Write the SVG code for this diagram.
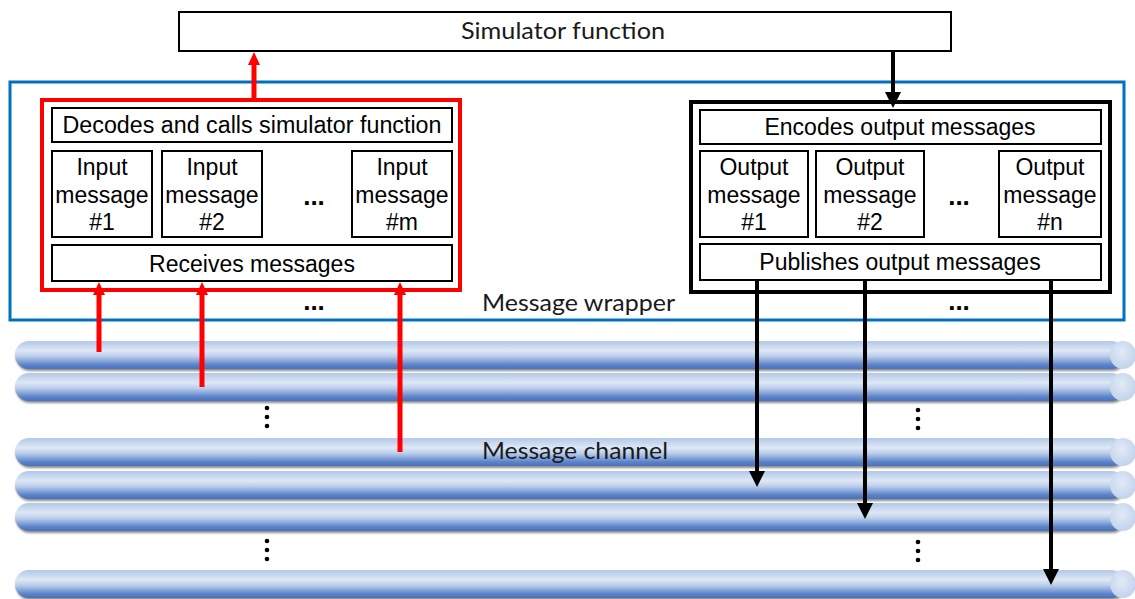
<svg xmlns="http://www.w3.org/2000/svg" width="1135" height="599" viewBox="0 0 1135 599">
  <style>
    .box { fill: #ffffff; stroke: #000000; stroke-width: 2; }
    .lbl { font-family: "Liberation Sans", Arial, sans-serif; font-size: 23px; fill: #000000; text-anchor: middle; }
    .cal { font-family: Lato, "Open Sans", sans-serif; font-size: 23px; fill: #1a1a1a; }
    .dots { font-family: "Liberation Sans", Arial, sans-serif; font-size: 26px; font-weight: bold; fill: #000000; text-anchor: middle; }
    .red { stroke: #ff0000; stroke-width: 5; fill: none; }
    .blk { stroke: #000000; stroke-width: 4; fill: none; }
    .vdot { fill: #000000; }
  </style>
  <defs>
    <linearGradient id="pipeBody" x1="0" y1="0" x2="0" y2="1">
      <stop offset="0" stop-color="#b1c8e8"/>
      <stop offset="0.35" stop-color="#dfe8f5"/>
      <stop offset="0.55" stop-color="#b9cdeb"/>
      <stop offset="0.85" stop-color="#5c83c9"/>
      <stop offset="1" stop-color="#4a72bd"/>
    </linearGradient>
    <radialGradient id="pipeEnd" cx="0.45" cy="0.4" r="0.6">
      <stop offset="0" stop-color="#e2eaf6"/>
      <stop offset="1" stop-color="#c3d3ec"/>
    </radialGradient>
    <filter id="soft" x="-5%" y="-50%" width="110%" height="200%">
      <feGaussianBlur stdDeviation="1.2"/>
    </filter>
    <marker id="redHead" viewBox="0 0 13 12" refX="0" refY="6" markerWidth="13" markerHeight="12" markerUnits="userSpaceOnUse" orient="auto">
      <path d="M0,0 L13,6 L0,12 z" fill="#ff0000"/>
    </marker>
    <marker id="blkHead" viewBox="0 0 16 16" refX="0" refY="8" markerWidth="16" markerHeight="16" markerUnits="userSpaceOnUse" orient="auto">
      <path d="M0,0 L16,8 L0,16 z" fill="#000000"/>
    </marker>
    <g id="pipe">
      <rect x="16" y="2" width="1110" height="28" rx="14" fill="#8a8a8a" filter="url(#soft)"/>
      <rect x="15" y="0" width="1110" height="28" rx="14" fill="url(#pipeBody)"/>
      <ellipse cx="1123" cy="14" rx="13" ry="14" fill="url(#pipeEnd)"/>
    </g>
  </defs>

  <!-- message channel pipes -->
  <g id="channels">
    <use href="#pipe" y="341"/>
    <use href="#pipe" y="373"/>
    <use href="#pipe" y="438"/>
    <use href="#pipe" y="471"/>
    <use href="#pipe" y="503"/>
    <use href="#pipe" y="570"/>
    <circle class="vdot" cx="267" cy="408" r="2.3"/>
    <circle class="vdot" cx="267" cy="417" r="2.3"/>
    <circle class="vdot" cx="267" cy="426" r="2.3"/>
    <circle class="vdot" cx="918" cy="410" r="2.3"/>
    <circle class="vdot" cx="918" cy="419" r="2.3"/>
    <circle class="vdot" cx="918" cy="428" r="2.3"/>
    <circle class="vdot" cx="267" cy="541" r="2.3"/>
    <circle class="vdot" cx="267" cy="550" r="2.3"/>
    <circle class="vdot" cx="267" cy="559" r="2.3"/>
    <circle class="vdot" cx="918" cy="542" r="2.3"/>
    <circle class="vdot" cx="918" cy="551" r="2.3"/>
    <circle class="vdot" cx="918" cy="560" r="2.3"/>
    <text class="cal" x="482" y="459" textLength="186" lengthAdjust="spacingAndGlyphs">Message channel</text>
  </g>

  <!-- simulator function -->
  <g id="simulator">
    <rect class="box" x="179" y="12" width="772" height="39"/>
    <text class="cal" x="461" y="39" textLength="204" lengthAdjust="spacingAndGlyphs">Simulator function</text>
  </g>

  <!-- message wrapper -->
  <g id="wrapper">
    <rect x="10" y="82" width="1114" height="238" fill="none" stroke="#0070c0" stroke-width="3"/>
    <text class="cal" x="482" y="311" textLength="193" lengthAdjust="spacingAndGlyphs">Message wrapper</text>
    <text class="dots" x="314" y="310">...</text>
    <text class="dots" x="959" y="310">...</text>
  </g>

  <!-- input side -->
  <g id="input-side">
    <rect x="42" y="100" width="418" height="190" fill="none" stroke="#ff0000" stroke-width="4"/>
    <g id="decoder">
      <rect class="box" x="52" y="108" width="400" height="34"/>
      <text class="lbl" x="252" y="133" textLength="379" lengthAdjust="spacingAndGlyphs">Decodes and calls simulator function</text>
    </g>
    <g id="input1">
      <rect class="box" x="52" y="151" width="100" height="86"/>
      <text class="lbl" x="102" y="175">Input</text>
      <text class="lbl" x="102" y="203">message</text>
      <text class="lbl" x="102" y="230">#1</text>
    </g>
    <g id="input2">
      <rect class="box" x="162" y="151" width="100" height="86"/>
      <text class="lbl" x="212" y="175">Input</text>
      <text class="lbl" x="212" y="203">message</text>
      <text class="lbl" x="212" y="230">#2</text>
    </g>
    <text class="dots" x="314" y="205">...</text>
    <g id="inputm">
      <rect class="box" x="352" y="151" width="100" height="86"/>
      <text class="lbl" x="402" y="175">Input</text>
      <text class="lbl" x="402" y="203">message</text>
      <text class="lbl" x="402" y="230">#m</text>
    </g>
    <g id="receiver">
      <rect class="box" x="52" y="245" width="400" height="36"/>
      <text class="lbl" x="252" y="272">Receives messages</text>
    </g>
  </g>

  <!-- output side -->
  <g id="output-side">
    <rect x="691" y="102" width="419" height="190" fill="none" stroke="#000000" stroke-width="4"/>
    <g id="encoder">
      <rect class="box" x="700" y="110" width="401" height="34"/>
      <text class="lbl" x="900" y="135">Encodes output messages</text>
    </g>
    <g id="output1">
      <rect class="box" x="700" y="151" width="108" height="86"/>
      <text class="lbl" x="754" y="175">Output</text>
      <text class="lbl" x="754" y="203">message</text>
      <text class="lbl" x="754" y="230">#1</text>
    </g>
    <g id="output2">
      <rect class="box" x="816" y="151" width="108" height="86"/>
      <text class="lbl" x="870" y="175">Output</text>
      <text class="lbl" x="870" y="203">message</text>
      <text class="lbl" x="870" y="230">#2</text>
    </g>
    <text class="dots" x="959" y="205">...</text>
    <g id="outputn">
      <rect class="box" x="999" y="151" width="102" height="86"/>
      <text class="lbl" x="1050" y="175">Output</text>
      <text class="lbl" x="1050" y="203">message</text>
      <text class="lbl" x="1050" y="230">#n</text>
    </g>
    <g id="publisher">
      <rect class="box" x="700" y="244" width="401" height="36"/>
      <text class="lbl" x="900" y="270">Publishes output messages</text>
    </g>
  </g>

  <!-- connectors -->
  <g id="connectors">
    <line class="red" x1="254" y1="100" x2="254" y2="65" marker-end="url(#redHead)"/>
    <line class="blk" x1="893" y1="51" x2="893" y2="92" marker-end="url(#blkHead)"/>
    <line class="red" x1="99" y1="352" x2="99" y2="295" marker-end="url(#redHead)"/>
    <line class="red" x1="202" y1="387" x2="202" y2="295" marker-end="url(#redHead)"/>
    <line class="red" x1="400" y1="452" x2="400" y2="295" marker-end="url(#redHead)"/>
    <line class="blk" x1="757" y1="280" x2="757" y2="471" marker-end="url(#blkHead)"/>
    <line class="blk" x1="865" y1="280" x2="865" y2="503" marker-end="url(#blkHead)"/>
    <line class="blk" x1="1051" y1="280" x2="1051" y2="569" marker-end="url(#blkHead)"/>
  </g>
</svg>
